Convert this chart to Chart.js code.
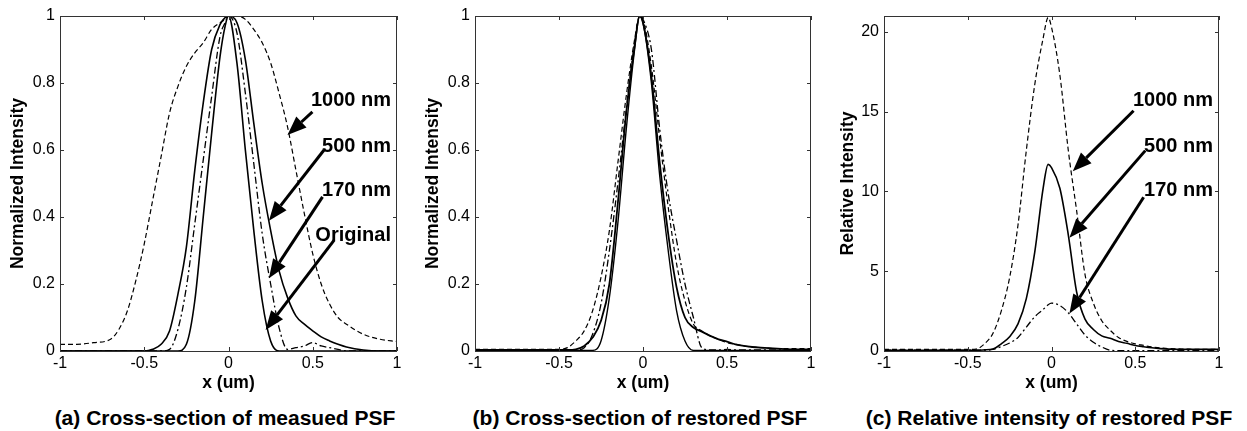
<!DOCTYPE html>
<html>
<head>
<meta charset="utf-8">
<script src="https://cdn.jsdelivr.net/npm/chart.js@4.4.0/dist/chart.umd.min.js"></script>
<style>
body{margin:0;background:#fff;width:1247px;height:431px;overflow:hidden;position:relative;font-family:"Liberation Sans",Arial,sans-serif}
canvas{position:absolute;top:0}
.cap{position:absolute;top:406px;line-height:24px;font-weight:bold;font-size:21px;white-space:nowrap;transform:translateX(-50%);color:#000}
</style>
</head>
<body>
<canvas id="chart-a" width="415" height="400" style="left:0"></canvas>
<canvas id="chart-b" width="415" height="400" style="left:415px"></canvas>
<canvas id="chart-c" width="417" height="400" style="left:830px"></canvas>
<div class="cap" style="left:225px">(a) Cross-section of measued PSF</div>
<div class="cap" style="left:640px">(b) Cross-section of restored PSF</div>
<div class="cap" style="left:1049px">(c) Relative intensity of restored PSF</div>
<script>
// x positions (um) shared by every curve
const xGrid = [-1,-0.9,-0.8,-0.7,-0.65,-0.6,-0.55,-0.5,-0.45,-0.4,-0.35,-0.3,-0.25,-0.2,-0.15,-0.1,-0.05,-0.02,0,
               0.05,0.1,0.15,0.2,0.25,0.3,0.35,0.4,0.45,0.5,0.55,0.6,0.65,0.7,0.8,0.9,1]

// (a) measured PSF, normalized
const a1000 = [0.02,0.02,0.025,0.035,0.065,0.12,0.21,0.32,0.45,0.58,0.71,0.79,0.85,0.89,0.92,0.96,0.98,0.99,1.0,
               1.0,0.99,0.96,0.92,0.86,0.77,0.67,0.54,0.41,0.29,0.2,0.14,0.1,0.08,0.05,0.035,0.028]
const a500  = [0,0,0,0,0,0,0,0,0.005,0.02,0.06,0.17,0.31,0.54,0.74,0.9,0.975,0.995,1,
               0.98,0.87,0.68,0.5,0.36,0.24,0.16,0.105,0.08,0.06,0.042,0.03,0.02,0.012,0.003,0,0]
const a170  = [0,0,0,0,0,0,0,0,0,0,0.005,0.065,0.19,0.38,0.57,0.76,0.94,0.98,1,
               0.95,0.77,0.56,0.35,0.2,0.07,0.005,0.01,0.015,0.025,0.015,0.01,0.005,0,0,0,0]
const aOrig = [0,0,0,0,0,0,0,0,0,0,0,0,0.02,0.15,0.4,0.65,0.88,0.97,1,
               0.86,0.6,0.36,0.15,0.03,0,0,0,0,0,0,0,0,0,0,0,0]

// (b) restored PSF, normalized
const b1000 = [0.005,0.005,0.005,0.005,0.005,0.005,0.005,0.005,0.01,0.03,0.06,0.12,0.22,0.36,0.56,0.76,0.93,1.0,0.99,
               0.85,0.63,0.43,0.26,0.15,0.08,0.06,0.045,0.035,0.025,0.02,0.015,0.012,0.01,0.007,0.007,0.007]
const b500  = [0.003,0.003,0.003,0.003,0.003,0.003,0.003,0.003,0.003,0.005,0.015,0.04,0.09,0.2,0.44,0.71,0.91,1.0,0.98,
               0.82,0.56,0.35,0.19,0.1,0.07,0.058,0.045,0.035,0.028,0.02,0.015,0.012,0.01,0.007,0.005,0.005]
const b170  = [0.003,0.003,0.003,0.003,0.003,0.003,0.003,0.003,0.003,0.003,0.01,0.05,0.14,0.3,0.5,0.72,0.92,1.0,0.99,
               0.9,0.66,0.47,0.33,0.2,0.1,0.01,0.003,0.003,0.005,0.003,0.003,0.003,0.003,0.003,0.003,0.003]
const bOrig = [0.002,0.002,0.002,0.002,0.002,0.002,0.002,0.002,0.002,0.002,0.002,0.002,0.03,0.16,0.38,0.66,0.9,1.0,0.98,
               0.8,0.52,0.3,0.12,0.03,0.002,0.002,0.002,0.002,0.002,0.002,0.002,0.002,0.002,0.002,0.002,0.002]

// (c) restored PSF, relative intensity
const c1000 = [0.1,0.1,0.1,0.1,0.1,0.1,0.1,0.1,0.12,0.45,1.1,2.5,4.6,7.9,12.6,16.7,19.6,20.9,20.3,
               17.3,12.6,8.8,4.8,3.0,1.9,1.3,0.85,0.6,0.45,0.35,0.25,0.2,0.15,0.12,0.1,0.1]
const c500  = [0.05,0.05,0.05,0.05,0.05,0.05,0.05,0.05,0.05,0.07,0.12,0.45,0.9,1.7,3.3,6.2,10.2,11.7,11.5,
               10.2,7.3,3.7,2.0,1.35,0.95,0.8,0.6,0.48,0.35,0.27,0.2,0.15,0.12,0.1,0.1,0.1]
const c170  = [0.05,0.05,0.05,0.05,0.05,0.05,0.05,0.05,0.05,0.05,0.1,0.28,0.5,0.85,1.5,2.15,2.6,2.9,3.0,
               2.85,2.4,1.7,1.0,0.55,0.25,0.05,0.02,0.02,0.02,0.02,0.02,0.02,0.02,0.02,0.02,0.02]

// arrow labels: text y, arrow tail and tip in data units
const notesA = [
    {text:'1000 nm', ty:0.749, tail:[0.498,0.714], tip:[0.35,0.645]},
    {text:'500 nm', ty:0.61, tail:[0.567,0.6], tip:[0.24,0.389]},
    {text:'170 nm', ty:0.48, tail:[0.558,0.46], tip:[0.24,0.217]},
    {text:'Original', ty:0.346, tail:[0.627,0.331], tip:[0.22,0.063]}
]
const notesC = [
    {text:'1000 nm', ty:15.7, tail:[0.49,15.06], tip:[0.127,11.27]},
    {text:'500 nm', ty:12.8, tail:[0.56,12.56], tip:[0.107,7.1]},
    {text:'170 nm', ty:10.06, tail:[0.55,9.64], tip:[0.107,2.35]}
]
const noteX = 0.964

const FAM = '"Liberation Sans", Arial, sans-serif'
const SOLID = [], DASH = [5,3], DASHDOT = [7,3,2,3]

function line(ys, dash, w){
    return {
        data: xGrid.map((x,i)=>({x:x, y:ys[i]})),
        borderColor:'#000', borderWidth:w, borderDash:dash,
        pointRadius:0, fill:false, cubicInterpolationMode:'monotone'
    }
}

// "1" not "1.0", "-0.5" etc, like matlab
const fmt = v => String(Number(v.toFixed(2)))

function drawArrow(ctx, x0, y0, x1, y1){
    let ang = Math.atan2(y1-y0, x1-x0)
    let L = 19, W = 7.5
    let bx = x1 - L*Math.cos(ang), by = y1 - L*Math.sin(ang)
    ctx.lineWidth = 3
    ctx.beginPath(); ctx.moveTo(x0,y0); ctx.lineTo(bx,by); ctx.stroke()
    ctx.beginPath()
    ctx.moveTo(x1,y1)
    ctx.lineTo(bx + W*Math.sin(ang), by - W*Math.cos(ang))
    ctx.lineTo(bx - W*Math.sin(ang), by + W*Math.cos(ang))
    ctx.closePath(); ctx.fill()
}

// matlab style box, inward ticks on all four sides, arrow notes
const boxPlugin = {
    id:'box',
    afterDraw(chart, args, opts){
        const {ctx, chartArea:a, scales:{x, y}} = chart
        ctx.save()
        ctx.strokeStyle = '#333'; ctx.lineWidth = 1
        ctx.strokeRect(a.left+0.5, a.top+0.5, a.right-a.left-1, a.bottom-a.top)
        ctx.beginPath()
        x.ticks.forEach(t=>{
            let px = Math.round(x.getPixelForValue(t.value))+0.5
            ctx.moveTo(px, a.bottom); ctx.lineTo(px, a.bottom-4)
            ctx.moveTo(px, a.top); ctx.lineTo(px, a.top+4)
        })
        y.ticks.forEach(t=>{
            let py = Math.round(y.getPixelForValue(t.value))+0.5
            ctx.moveTo(a.left, py); ctx.lineTo(a.left+4, py)
            ctx.moveTo(a.right, py); ctx.lineTo(a.right-4, py)
        })
        ctx.stroke()
        ctx.fillStyle = '#000'; ctx.strokeStyle = '#000'
        ctx.font = 'bold 20px ' + FAM
        ctx.textAlign = 'right'; ctx.textBaseline = 'middle'
        ;(opts.notes || []).forEach(n=>{
            ctx.fillText(n.text, x.getPixelForValue(noteX), y.getPixelForValue(n.ty))
            drawArrow(ctx, x.getPixelForValue(n.tail[0]), y.getPixelForValue(n.tail[1]),
                           x.getPixelForValue(n.tip[0]), y.getPixelForValue(n.tip[1]))
        })
        ctx.restore()
    }
}

function getConfig(datasets, yMax, yStep, yTitle, yWidth, padRight, notes){
    return {
        type:'line',
        data:{datasets:datasets},
        plugins:[boxPlugin],
        options:{
            responsive:false, animation:false, devicePixelRatio:1,
            layout:{padding:{left:0, right:padRight, top:16, bottom:0}},
            plugins:{legend:{display:false}, tooltip:{enabled:false}, box:{notes:notes}},
            scales:{
                x:{
                    type:'linear', min:-1, max:1,
                    ticks:{stepSize:0.5, color:'#000', font:{size:16, family:FAM}, padding:3, maxRotation:0, callback:fmt},
                    grid:{display:false, drawTicks:false}, border:{display:false},
                    title:{display:true, text:'x (um)', color:'#000', font:{size:17.5, weight:'bold', family:FAM}, padding:{top:0, bottom:6}},
                    afterFit(s){ s.height = 49 }
                },
                y:{
                    type:'linear', min:0, max:yMax,
                    ticks:{stepSize:yStep, includeBounds:false, color:'#000', font:{size:16, family:FAM}, padding:5, callback:fmt},
                    grid:{display:false, drawTicks:false}, border:{display:false},
                    title:{display:true, text:yTitle, color:'#000', font:{size:17.5, weight:'bold', family:FAM}, padding:{top:8, bottom:0}},
                    afterFit(s){ s.width = yWidth }
                }
            }
        }
    }
}

new Chart(document.getElementById('chart-a'), getConfig([
    line(a1000, DASH, 1.2), line(a500, SOLID, 1.6), line(a170, DASHDOT, 1.3), line(aOrig, SOLID, 1.6)
], 1, 0.2, 'Normalized Intensity', 60, 18, notesA))

new Chart(document.getElementById('chart-b'), getConfig([
    line(b1000, DASH, 1.2), line(b500, SOLID, 1.8), line(b170, DASHDOT, 1.3), line(bOrig, SOLID, 1.4)
], 1, 0.2, 'Normalized Intensity', 60, 19, []))

new Chart(document.getElementById('chart-c'), getConfig([
    line(c1000, DASH, 1.2), line(c500, SOLID, 1.6), line(c170, DASHDOT, 1.3)
], 21, 5, 'Relative Intensity', 54, 28, notesC))
</script>
</body>
</html>
